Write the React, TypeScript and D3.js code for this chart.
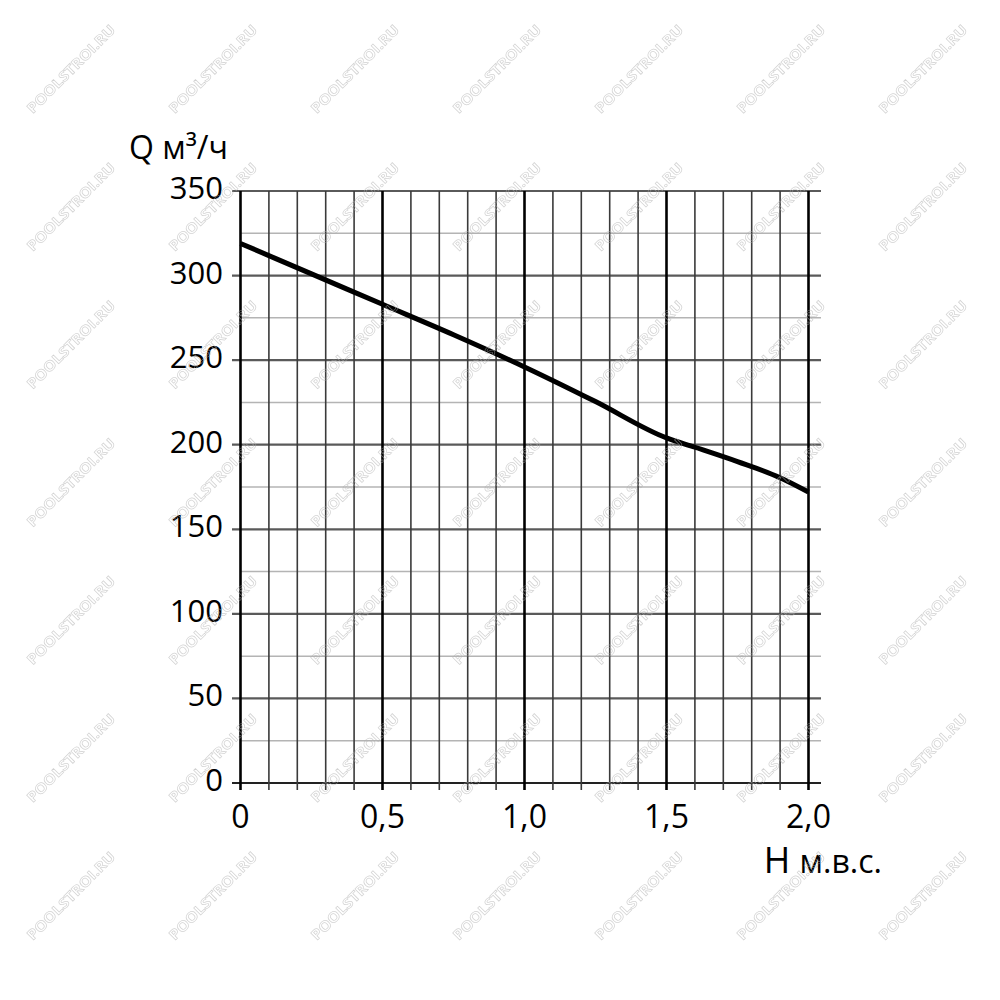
import React, { useEffect, useRef } from 'react';
import * as d3 from 'd3';

// head H (m) vs flow Q (m3/h)
const headValues = [0, 0.25, 0.5, 0.75, 1.0, 1.25, 1.5, 1.6, 1.75, 1.9, 2.0];
const flowValues = [319, 301, 283, 265, 246, 225.5, 204, 198.5, 190, 180.5, 172];

const xTickValues = [0, 0.5, 1.0, 1.5, 2.0];
const xTickLabels = ['0', '0,5', '1,0', '1,5', '2,0'];
const yTickValues = [0, 50, 100, 150, 200, 250, 300, 350];
const watermarkText = 'POOLSTROI.RU';

const App: React.FC = () => {
  const svgRef = useRef<SVGSVGElement>(null);

  useEffect(() => {
    if (!svgRef.current) return;
    const svg = d3.select(svgRef.current);
    svg.selectAll('*').remove();

    const x = d3.scaleLinear().domain([0, 2]).range([240.5, 808.5]);
    const y = d3.scaleLinear().domain([0, 350]).range([783, 191]);
    const font = '"Open Sans", "DejaVu Sans", sans-serif';

    svg.append('rect').attr('width', 1000).attr('height', 1000).attr('fill', '#fff');

    const grid = svg.append('g');

    // minor horizontal lines (every 25, between the labelled ones)
    const minorY = d3.range(25, 350, 50);
    grid.selectAll('.hminor')
      .data(minorY)
      .enter().append('line')
      .attr('x1', x(0)).attr('x2', 821)
      .attr('y1', d => y(d)).attr('y2', d => y(d))
      .attr('stroke', '#b4b4b4')
      .attr('stroke-width', 1.5);

    // labelled horizontal lines
    grid.selectAll('.hmajor')
      .data(yTickValues)
      .enter().append('line')
      .attr('x1', 232).attr('x2', 821)
      .attr('y1', d => y(d)).attr('y2', d => y(d))
      .attr('stroke', d => (d === 0 ? '#222' : '#5a5a5a'))
      .attr('stroke-width', 2.2);

    // vertical lines every 0.1, heavier every 0.5
    const vLines = d3.range(0, 21).map(i => i / 10);
    grid.selectAll('.v')
      .data(vLines)
      .enter().append('line')
      .attr('x1', d => x(d)).attr('x2', d => x(d))
      .attr('y1', y(350)).attr('y2', 790)
      .attr('stroke', (d, i) => (i % 5 === 0 ? '#000' : '#3a3a3a'))
      .attr('stroke-width', (d, i) => (i % 5 === 0 ? 2.6 : 1.6));

    // curve
    const pts: [number, number][] = headValues.map((h, i) => [h, flowValues[i]]);
    const line = d3.line<[number, number]>()
      .x(d => x(d[0]))
      .y(d => y(d[1]))
      .curve(d3.curveMonotoneX);

    svg.append('path')
      .datum(pts)
      .attr('fill', 'none')
      .attr('stroke', '#000')
      .attr('stroke-width', 5)
      .attr('d', line as any);

    // y tick labels
    svg.selectAll('.ylab')
      .data(yTickValues)
      .enter().append('text')
      .attr('x', 223)
      .attr('y', d => y(d) + 8)
      .attr('text-anchor', 'end')
      .attr('font-family', font)
      .attr('font-size', 31)
      .attr('fill', '#000')
      .text(d => String(d));

    // x tick labels
    svg.selectAll('.xlab')
      .data(xTickValues)
      .enter().append('text')
      .attr('x', d => x(d))
      .attr('y', 828)
      .attr('text-anchor', 'middle')
      .attr('font-family', font)
      .attr('font-size', 32)
      .attr('fill', '#000')
      .text((d, i) => xTickLabels[i]);

    // axis titles
    svg.append('text')
      .attr('x', 228).attr('y', 159)
      .attr('text-anchor', 'end')
      .attr('font-family', font)
      .attr('font-size', 32)
      .attr('fill', '#000')
      .text('Q м³/ч');

    const hTitle = svg.append('text')
      .attr('x', 882).attr('y', 873)
      .attr('text-anchor', 'end')
      .attr('font-family', font)
      .attr('fill', '#000');
    hTitle.append('tspan').attr('font-size', 36).text('H ');
    hTitle.append('tspan').attr('font-size', 32).text('м.в.с.');

    // watermarks
    const wmCols = d3.range(0, 7).map(i => 71 + i * 142);
    const wmRows = d3.range(0, 7).map(i => 69 + i * 137.8);
    const wm = svg.append('g').attr('opacity', 0.55);
    wmRows.forEach(cy => {
      wmCols.forEach(cx => {
        wm.append('text')
          .attr('transform', `translate(${cx},${cy}) rotate(-45)`)
          .attr('text-anchor', 'middle')
          .attr('dy', 5)
          .attr('font-family', font)
          .attr('font-weight', 700)
          .attr('font-size', 14)
          .attr('textLength', 118)
          .attr('lengthAdjust', 'spacingAndGlyphs')
          .attr('fill', 'none')
          .attr('stroke', '#b0b0b0')
          .attr('stroke-width', 0.7)
          .text(watermarkText);
      });
    });
  }, []);

  return (
    <svg
      ref={svgRef}
      width={1000}
      height={1000}
      viewBox="0 0 1000 1000"
      style={{ position: 'absolute', left: 0, top: 0, display: 'block' }}
    />
  );
};

export default App;
